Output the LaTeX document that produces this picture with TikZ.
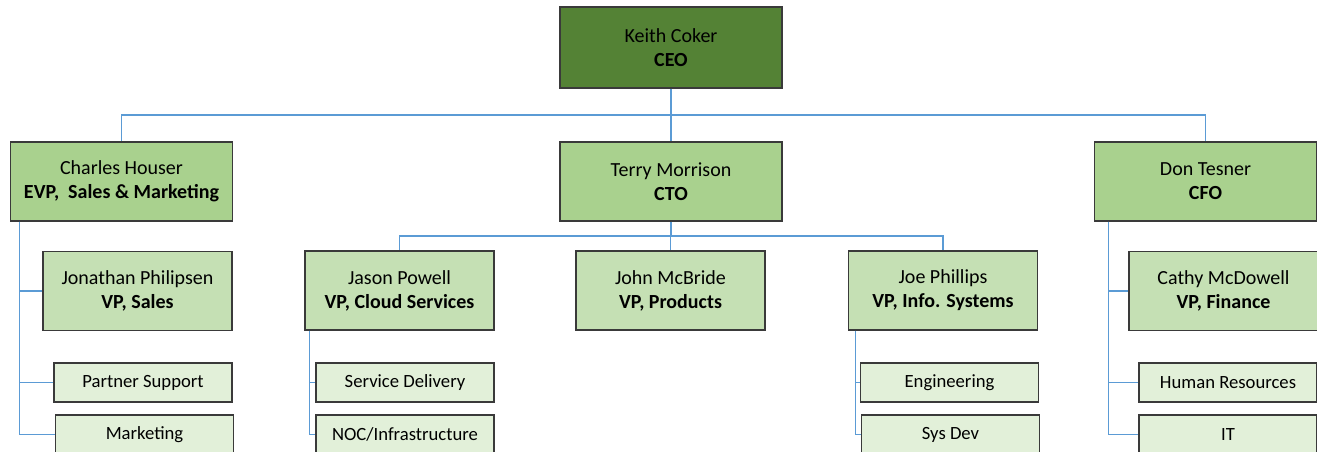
\documentclass[tikz,border=0pt]{standalone}
\usepackage{fontspec}
\setmainfont{Carlito}
\definecolor{ceogreen}{HTML}{548235}
\definecolor{cxogreen}{HTML}{A9D18E}
\definecolor{vpgreen}{HTML}{C5E0B4}
\definecolor{unitgreen}{HTML}{E2F0D9}
\definecolor{boxgray}{HTML}{3A3A3A}
\definecolor{linkblue}{HTML}{5B9BD5}

\begin{document}
\begin{tikzpicture}[x=0.75pt, y=-0.75pt,
    box/.style={draw=boxgray, line width=0.9pt, align=center, inner sep=0pt,
        font=\fontsize{15}{18}\selectfont},
    ceobox/.style={box, fill=ceogreen, minimum width=166.5pt, minimum height=60.75pt},
    cxobox/.style={box, fill=cxogreen, minimum width=166.5pt, minimum height=59.25pt},
    vpbox/.style={box, fill=vpgreen, minimum width=141.75pt, minimum height=59.25pt},
    unitbox/.style={box, fill=unitgreen, minimum width=133.5pt, minimum height=29.25pt,
        font=\fontsize{14}{17}\selectfont},
    link/.style={draw=linkblue, line width=0.8pt}]
    \useasboundingbox (0,0) rectangle (1317,452);
    \clip (0,0) rectangle (1317,452);

    % Top
    \node[ceobox] (ceo) at (671,47.5) {Keith Coker\\\textbf{CEO}};

    % Second level
    \node[cxobox] (evp) at (121.5,181.5) {Charles Houser\\\textbf{EVP, \ Sales \& Marketing}};
    \node[cxobox] (cto) at (671,181.5) {Terry Morrison\\\textbf{CTO}};
    \node[cxobox] (cfo) at (1205.5,181.5) {Don Tesner\\\textbf{CFO}};

    % VPs
    \node[vpbox] (sales) at (137.5,291) {Jonathan Philipsen\\\textbf{VP, Sales}};
    \node[vpbox] (cloud) at (399.5,290.5) {Jason Powell\\\textbf{VP, Cloud Services}};
    \node[vpbox] (products) at (670.5,290.5) {John McBride\\\textbf{VP, Products}};
    \node[vpbox] (infosys) at (943,290.5) {Joe Phillips\\\textbf{VP, Info. Systems}};
    \node[vpbox] (finance) at (1223.5,291) {Cathy McDowell\\\textbf{VP, Finance}};

    % Units
    \node[unitbox] (partner) at (143,382.5) {Partner Support};
    \node[unitbox] (marketing) at (144.5,434.5) {Marketing};
    \node[unitbox] (delivery) at (405,382.5) {Service Delivery};
    \node[unitbox] (noc) at (405,434.5) {NOC/Infrastructure};
    \node[unitbox] (eng) at (949.5,382.5) {Engineering};
    \node[unitbox] (sysdev) at (950.5,434.5) {Sys Dev};
    \node[unitbox] (hr) at (1228,382.5) {Human Resources};
    \node[unitbox] (it) at (1228,434.5) {IT};

    % Buses
    \coordinate (topbus) at (0,115);
    \coordinate (ctobus) at (0,236);

    % Links
    \draw[link] (ceo.south) -- (cto.north);
    \draw[link] (ceo.south |- topbus) -| (evp.north);
    \draw[link] (ceo.south |- topbus) -| (cfo.north);

    \draw[link] (cto.south) -- (cto.south |- ctobus);
    \foreach \vp in {cloud,products,infosys}
        \draw[link] (cto.south |- ctobus) -| (\vp.north);

    \foreach \u in {sales,partner,marketing}
        \draw[link] ([xshift=7.5pt]evp.south west) |- (\u.west);
    \foreach \u in {delivery,noc}
        \draw[link] ([xshift=3.75pt]cloud.south west) |- (\u.west);
    \foreach \u in {eng,sysdev}
        \draw[link] ([xshift=6pt]infosys.south west) |- (\u.west);
    \foreach \u in {finance,hr,it}
        \draw[link] ([xshift=11.25pt]cfo.south west) |- (\u.west);
\end{tikzpicture}
\end{document}
